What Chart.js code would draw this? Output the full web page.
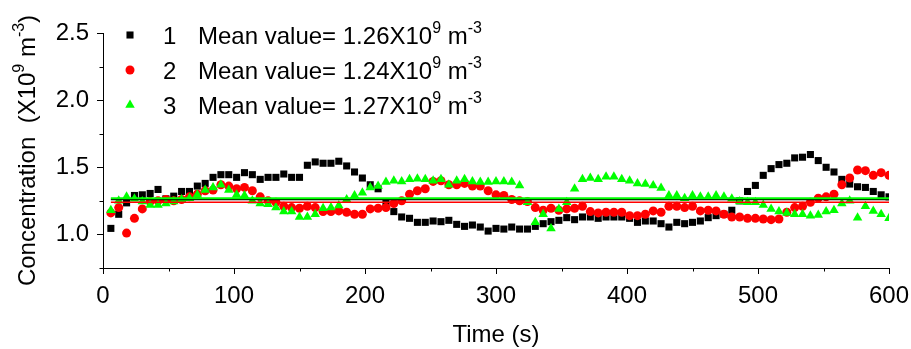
<!DOCTYPE html>
<html>
<head>
<meta charset="utf-8">
<script src="https://cdn.jsdelivr.net/npm/chart.js@4.4.0/dist/chart.umd.min.js"></script>
<style>
  body { margin: 0; background: #fff; }
  #wrap { width: 911px; height: 349px; }
</style>
</head>
<body>
<div id="wrap"><canvas id="chart" width="911" height="349"></canvas></div>
<script>
// sampling times (s)
const times = [6,12,18,24,30,36,42,48,54,60,66,72,78,84,90,96,102,108,114,120,
  126,132,138,144,150,156,162,168,174,180,186,192,198,204,210,216,222,228,234,240,
  246,252,258,264,270,276,282,288,294,300,306,312,318,324,330,336,342,348,354,360,
  366,372,378,384,390,396,402,408,414,420,426,432,438,444,450,456,462,468,474,480,
  486,492,498,504,510,516,522,528,534,540,546,552,558,564,570,576,582,588,594,600];
// concentration (X10^9 m^-3)
const conc1 = [1.045,1.15,1.235,1.29,1.295,1.305,1.335,1.265,1.285,1.32,
  1.32,1.36,1.38,1.425,1.445,1.445,1.425,1.46,1.445,1.41,
  1.425,1.425,1.45,1.425,1.425,1.515,1.54,1.53,1.53,1.545,
  1.51,1.465,1.42,1.37,1.34,1.23,1.17,1.13,1.12,1.09,
  1.09,1.10,1.095,1.105,1.075,1.06,1.07,1.055,1.025,1.045,
  1.04,1.055,1.04,1.04,1.06,1.08,1.095,1.105,1.125,1.11,
  1.13,1.13,1.12,1.13,1.13,1.13,1.12,1.09,1.10,1.10,
  1.08,1.055,1.09,1.08,1.09,1.10,1.125,1.14,1.15,1.18,
  1.25,1.32,1.365,1.44,1.49,1.52,1.53,1.57,1.575,1.595,
  1.55,1.50,1.465,1.41,1.375,1.355,1.35,1.32,1.295,1.28];
const conc2 = [1.16,1.20,1.01,1.12,1.19,1.245,1.25,1.26,1.25,1.26,
  1.28,1.30,1.325,1.33,1.37,1.36,1.34,1.35,1.325,1.28,
  1.25,1.24,1.21,1.20,1.195,1.21,1.20,1.17,1.17,1.175,
  1.165,1.15,1.15,1.19,1.195,1.20,1.23,1.25,1.30,1.325,
  1.34,1.395,1.40,1.37,1.37,1.38,1.36,1.36,1.325,1.295,
  1.29,1.26,1.25,1.245,1.20,1.18,1.195,1.18,1.19,1.195,
  1.21,1.17,1.16,1.165,1.165,1.165,1.14,1.14,1.15,1.175,
  1.165,1.21,1.21,1.20,1.21,1.175,1.18,1.175,1.15,1.13,
  1.13,1.12,1.12,1.115,1.11,1.115,1.165,1.20,1.21,1.24,
  1.27,1.28,1.30,1.37,1.42,1.48,1.475,1.44,1.46,1.44];
const conc3 = [1.18,1.25,1.28,1.265,1.245,1.22,1.22,1.23,1.245,1.26,
  1.27,1.295,1.33,1.35,1.37,1.33,1.295,1.29,1.25,1.23,
  1.225,1.20,1.17,1.17,1.13,1.13,1.15,1.195,1.20,1.215,
  1.26,1.29,1.31,1.35,1.36,1.39,1.40,1.395,1.41,1.415,
  1.41,1.40,1.41,1.37,1.40,1.41,1.395,1.39,1.39,1.395,
  1.395,1.39,1.365,1.24,1.09,1.15,1.045,1.19,1.24,1.34,
  1.41,1.42,1.41,1.43,1.43,1.41,1.40,1.38,1.375,1.365,
  1.345,1.29,1.29,1.27,1.29,1.28,1.28,1.29,1.28,1.265,
  1.245,1.24,1.24,1.22,1.19,1.17,1.16,1.15,1.15,1.14,
  1.145,1.17,1.18,1.23,1.25,1.125,1.21,1.175,1.15,1.12];
const seriesNames = ["1", "2", "3"];
const meanValues = [1.26, 1.24, 1.27];
const xMajorTicks = [0, 100, 200, 300, 400, 500, 600];
const xMinorTicks = [50, 150, 250, 350, 450, 550];
const yMajorTicks = [1.0, 1.5, 2.0, 2.5];
const yMinorTicks = [0.75, 1.25, 1.75, 2.25];

const FONT = '"Liberation Sans", Arial, sans-serif';
const colors = ["#000000", "#ff0000", "#00ff00"];
const styles = ["rect", "circle", "triangle"];
const radii = [5, 4.5, 5.5];
const allConc = [conc1, conc2, conc3];

// draw text with superscript parts
function drawRich(ctx, parts, x, y, center) {
  const widths = parts.map(([t, sup]) => {
    ctx.font = (sup ? 16 : 24) + "px " + FONT;
    return ctx.measureText(t).width;
  });
  const total = widths.reduce((a, b) => a + b, 0);
  let cx = center ? x - total / 2 : x;
  parts.forEach(([t, sup], i) => {
    ctx.font = (sup ? 16 : 24) + "px " + FONT;
    ctx.fillText(t, cx, sup ? y - 11 : y);
    cx += widths[i];
  });
}

function drawMarker(ctx, style, r, x, y) {
  ctx.beginPath();
  if (style === "rect") {
    const s = r * Math.SQRT1_2;
    ctx.rect(x - s, y - s, 2 * s, 2 * s);
  } else if (style === "circle") {
    ctx.arc(x, y, r, 0, Math.PI * 2);
  } else {
    ctx.moveTo(x, y - r);
    ctx.lineTo(x + r * 0.866, y + r / 2);
    ctx.lineTo(x - r * 0.866, y + r / 2);
    ctx.closePath();
  }
  ctx.fill();
}

const extras = {
  id: "extras",
  afterDraw(chart) {
    const ctx = chart.ctx;
    const xs = chart.scales.x, ys = chart.scales.y;
    const area = chart.chartArea;
    ctx.save();
    // tick marks
    ctx.strokeStyle = "#000";
    ctx.lineWidth = 1;
    ctx.beginPath();
    xMajorTicks.concat(xMinorTicks).forEach((v) => {
      const px = Math.round(xs.getPixelForValue(v)) + 0.5;
      const len = xMajorTicks.includes(v) ? 6 : 3.5;
      ctx.moveTo(px, area.bottom);
      ctx.lineTo(px, area.bottom + len);
    });
    yMajorTicks.concat(yMinorTicks).forEach((v) => {
      const py = Math.round(ys.getPixelForValue(v)) + 0.5;
      const len = yMajorTicks.includes(v) ? 6 : 3.5;
      ctx.moveTo(area.left, py);
      ctx.lineTo(area.left - len, py);
    });
    ctx.stroke();

    // legend
    ctx.fillStyle = "#000";
    ctx.textBaseline = "alphabetic";
    ctx.textAlign = "left";
    seriesNames.forEach((name, i) => {
      const my = 35 + i * 35;
      ctx.fillStyle = colors[i];
      drawMarker(ctx, styles[i], radii[i], 130, my);
      ctx.fillStyle = "#000";
      drawRich(ctx, [[name, false]], 163, my + 8.5, false);
      drawRich(ctx, [["Mean value= " + meanValues[i].toFixed(2) + "X10", false], ["9", true], [" m", false], ["-3", true]], 198, my + 8.5, false);
    });

    // axis titles
    drawRich(ctx, [["Time (s)", false]], (area.left + area.right) / 2, 342, true);
    ctx.translate(35, (area.top + area.bottom) / 2);
    ctx.rotate(-Math.PI / 2);
    drawRich(ctx, [["Concentration  (X10", false], ["9", true], [" m", false], ["-3", true], [")", false]], 0, 0, true);
    ctx.restore();
  }
};

const datasets = allConc.map((vals, i) => ({
  type: "scatter",
  data: times.map((t, k) => ({ x: t, y: vals[k] })),
  pointStyle: styles[i],
  pointRadius: radii[i],
  backgroundColor: colors[i],
  borderWidth: 0,
  order: 3 - i
}));
// mean value lines
const lineOrder = [-1, -2, -3];
meanValues.forEach((m, i) => {
  datasets.push({
    type: "line",
    data: [{ x: times[0], y: m }, { x: times[times.length - 1], y: m }],
    borderColor: colors[i],
    borderWidth: i === 2 ? 2 : 1.5,
    pointRadius: 0,
    fill: false,
    order: lineOrder[i]
  });
});

const ctx = document.getElementById("chart").getContext("2d");
new Chart(ctx, {
  type: "scatter",
  data: { datasets: datasets },
  options: {
    responsive: false,
    animation: false,
    layout: { padding: { top: 33, right: 22, left: 0, bottom: 0 } },
    plugins: { legend: { display: false }, tooltip: { enabled: false } },
    scales: {
      x: {
        type: "linear",
        min: 0,
        max: 600,
        afterBuildTicks: (s) => { s.ticks = xMajorTicks.map((v) => ({ value: v })); },
        afterFit: (s) => { s.height = 81; s.paddingLeft = 0; s.paddingRight = 0; },
        grid: { drawOnChartArea: false, drawTicks: true, tickLength: 6, color: "rgba(0,0,0,0)" },
        border: { display: true, color: "#000", width: 1 },
        ticks: { color: "#000", font: { family: FONT, size: 24 }, padding: 8, maxRotation: 0, autoSkip: false }
      },
      y: {
        type: "linear",
        min: 0.75,
        max: 2.5,
        afterBuildTicks: (s) => { s.ticks = yMajorTicks.map((v) => ({ value: v })); },
        afterFit: (s) => { s.width = 103; s.paddingTop = 0; s.paddingBottom = 0; },
        grid: { drawOnChartArea: false, drawTicks: true, tickLength: 6, color: "rgba(0,0,0,0)" },
        border: { display: true, color: "#000", width: 1 },
        ticks: { color: "#000", font: { family: FONT, size: 24 }, padding: 8, callback: (v) => Number(v).toFixed(1) }
      }
    }
  },
  plugins: [extras]
});
</script>
</body>
</html>
